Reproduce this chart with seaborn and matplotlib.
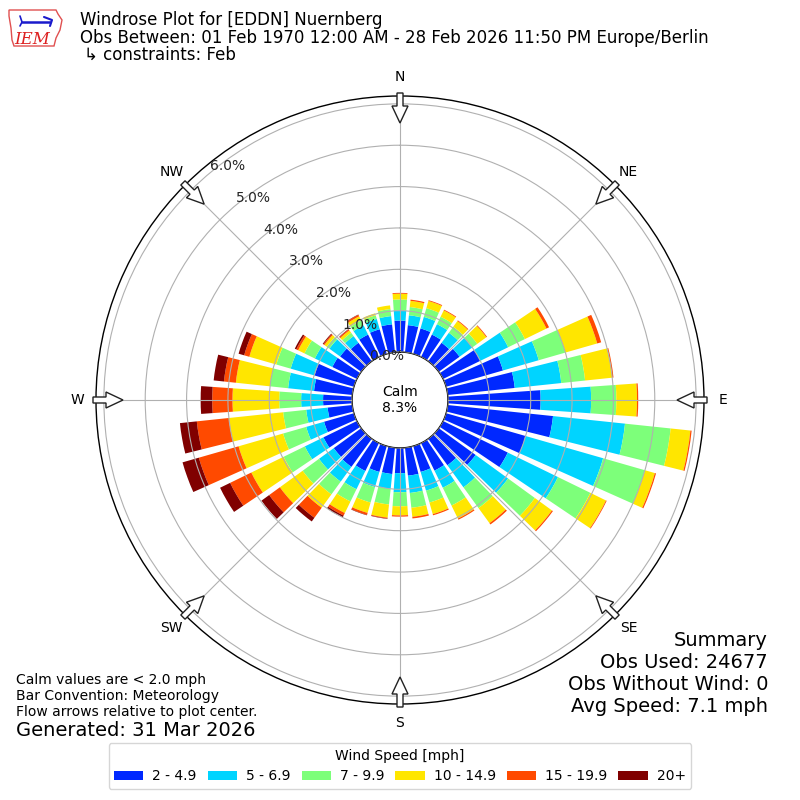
import numpy as np
import matplotlib
matplotlib.use("Agg")
import matplotlib.pyplot as plt
import seaborn as sns
from matplotlib.patches import FancyArrow, Polygon

# ---------------- data (percent of observations) ----------------
directions = [0, 10, 20, 30, 40, 50, 60, 70, 80, 90, 100, 110, 120, 130, 140, 150, 160, 170,
              180, 190, 200, 210, 220, 230, 240, 250, 260, 270, 280, 290, 300, 310, 320, 330, 340, 350]
speed_bins = ["2 - 4.9", "5 - 6.9", "7 - 9.9", "10 - 14.9", "15 - 19.9", "20+"]
# cumulative radius of each speed bin, per direction
cum_2_5 = [0.76, 0.66, 0.64, 0.60, 0.55, 0.62, 1.00, 1.43, 1.63, 2.24, 2.56, 2.00, 1.74, 1.10, 0.79, 0.74, 0.65, 0.68,
           0.61, 0.64, 0.65, 0.75, 0.84, 0.82, 0.90, 0.75, 0.60, 0.70, 0.93, 0.99, 0.66, 0.63, 0.55, 0.60, 0.62, 0.68]
cum_5_7 = [1.00, 0.90, 0.93, 0.88, 0.85, 1.00, 1.75, 2.33, 2.76, 3.46, 4.31, 3.95, 3.09, 2.07, 1.45, 1.20, 1.12, 1.10,
           1.07, 1.00, 1.03, 1.24, 1.28, 1.26, 1.40, 1.20, 1.12, 1.23, 1.56, 1.59, 1.13, 0.95, 0.75, 0.85, 0.88, 0.88]
cum_7_10 = [1.27, 1.10, 1.15, 1.08, 1.03, 1.15, 2.20, 3.00, 3.34, 4.07, 5.42, 5.00, 3.96, 2.87, 2.07, 1.68, 1.42, 1.46,
            1.41, 1.38, 1.42, 1.57, 1.66, 1.75, 1.97, 1.78, 1.68, 1.76, 2.00, 1.95, 1.41, 1.03, 0.85, 0.98, 0.97, 1.05]
cum_10_15 = [1.41, 1.25, 1.33, 1.25, 1.20, 1.42, 2.78, 3.80, 4.00, 4.57, 5.90, 5.25, 4.38, 3.38, 2.52, 2.03, 1.71, 1.68,
             1.63, 1.70, 1.68, 1.88, 2.06, 2.43, 2.84, 2.90, 3.00, 2.89, 2.83, 2.63, 1.58, 1.10, 0.92, 1.09, 1.02, 1.14]
cum_15_20 = [1.43, 1.28, 1.35, 1.27, 1.22, 1.44, 2.85, 3.90, 4.03, 4.60, 5.93, 5.28, 4.40, 3.41, 2.56, 2.06, 1.74, 1.72,
             1.66, 1.72, 1.73, 1.95, 2.36, 2.75, 3.41, 3.90, 3.78, 3.38, 3.12, 2.76, 1.63, 1.13, 0.95, 1.13, 1.02, 1.14]
cum_20p = [1.43, 1.28, 1.35, 1.27, 1.22, 1.44, 2.85, 3.90, 4.03, 4.60, 5.93, 5.28, 4.40, 3.41, 2.56, 2.06, 1.74, 1.72,
           1.66, 1.73, 1.74, 2.00, 2.47, 2.98, 3.68, 4.31, 4.19, 3.66, 3.37, 2.90, 1.67, 1.15, 0.96, 1.14, 1.02, 1.14]
r_ticks = [0, 1, 2, 3, 4, 5, 6]
r_tick_labels = ["0.0%", "1.0%", "2.0%", "3.0%", "4.0%", "5.0%", "6.0%"]
compass = ["N", "NE", "E", "SE", "S", "SW", "W", "NW"]
calm_pct = 8.3
colors_hex = ["#0028ff", "#00d4ff", "#7dff7a", "#ffe600", "#ff4a00", "#800000"]

# ---------------- style ----------------
sns.set_style("white")
palette = sns.color_palette(colors_hex)
plt.rcParams["font.family"] = ["DejaVu Sans"]
plt.rcParams["text.color"] = "black"

fig = plt.figure(figsize=(8, 8), dpi=100)
ax = fig.add_axes([0.12, 0.12, 0.76, 0.76], projection="polar")
ax.set_theta_zero_location("N")
ax.set_theta_direction(-1)
ax.set_facecolor("white")
ax.set_axisbelow(False)

cums = [cum_2_5, cum_5_7, cum_7_10, cum_10_15, cum_15_20, cum_20p]
theta = np.deg2rad(directions)
width = np.deg2rad(8.0)
prev = np.zeros(len(directions))
bars = []
for k, c in enumerate(cums):
    c = np.array(c)
    b = ax.bar(theta, c - prev, bottom=prev, width=width, color=palette[k],
               linewidth=0, label=speed_bins[k], zorder=1)
    bars.append(b)
    prev = c

ax.set_rorigin(-1.16)
ax.set_ylim(0, 6.19)
ax.set_yticks(r_ticks)
ax.set_yticklabels(r_tick_labels, fontsize=10)
ax.set_rlabel_position(320)
ax.set_xticks(np.deg2rad(np.arange(0, 360, 45)))
ax.set_xticklabels([])
ax.grid(True, color="#b0b0b0", linewidth=0.8)
ax.spines["polar"].set_color("black")
ax.spines["polar"].set_linewidth(1.0)
ax.spines["inner"].set_visible(True)
ax.spines["inner"].set_color("black")
ax.spines["inner"].set_linewidth(1.0)

ax.text(0.5, 0.5, "Calm\n%.1f%%" % calm_pct, transform=ax.transAxes,
        ha="center", va="center", fontsize=10, zorder=5)

# compass labels and flow arrows (figure fraction coordinates, centre 0.5,0.5)
for i, lab in enumerate(compass):
    ang = np.deg2rad(i * 45)
    sx, sy = np.sin(ang), np.cos(ang)
    fig.text(0.5 + sx * 323 / 800, 0.5 + sy * 323 / 800, lab, ha="center", va="center", fontsize=10)
    r0, r1 = 307 / 800, 277 / 800
    arr = FancyArrow(0.5 + sx * r0, 0.5 + sy * r0, sx * (r1 - r0), sy * (r1 - r0),
                     width=6 / 800, head_width=16 / 800, head_length=17 / 800,
                     length_includes_head=True, transform=fig.transFigure,
                     facecolor="white", edgecolor="#222222", linewidth=1.0, zorder=10)
    fig.add_artist(arr)

# titles
fig.text(80 / 800, 1 - 20 / 800, "Windrose Plot for [EDDN] Nuernberg", fontsize=12, va="center")
fig.text(80 / 800, 1 - 38 / 800, "Obs Between: 01 Feb 1970 12:00 AM - 28 Feb 2026 11:50 PM Europe/Berlin",
         fontsize=12, va="center")
fig.text(84 / 800, 1 - 55 / 800, "\u21b3 constraints: Feb", fontsize=12, va="center")

# logo (simple drawing)
lax = fig.add_axes([8 / 800, 1 - 50 / 800, 56 / 800, 42 / 800])
lax.set_xlim(0, 56)
lax.set_ylim(0, 42)
lax.axis("off")
iowa = Polygon([[1, 40], [48, 40], [50, 36], [54, 30], [52, 20], [48, 12], [46, 4], [6, 4], [4, 10], [3, 22], [1, 34]],
               closed=True, fill=False, edgecolor="#e05050", linewidth=1.0)
lax.add_patch(iowa)
lax.plot([14, 42], [28, 28], color="#1a1acc", linewidth=1.8)
lax.plot([12, 14, 12], [34, 28, 24], color="#1a1acc", linewidth=1.2)
lax.plot([36, 44, 42], [33, 30, 24], color="#1a1acc", linewidth=1.5)
lax.text(24, 11, "IEM", color="#dd2020", fontsize=12, fontstyle="italic", family="DejaVu Serif",
         ha="center", va="center")

# bottom-left notes
fig.text(16 / 800, 1 - 680 / 800, "Calm values are < 2.0 mph", fontsize=10, va="center")
fig.text(16 / 800, 1 - 696 / 800, "Bar Convention: Meteorology", fontsize=10, va="center")
fig.text(16 / 800, 1 - 712 / 800, "Flow arrows relative to plot center.", fontsize=10, va="center")
fig.text(16 / 800, 1 - 730 / 800, "Generated: 31 Mar 2026", fontsize=14, va="center")

# summary
summary = ["Summary", "Obs Used: 24677", "Obs Without Wind: 0", "Avg Speed: 7.1 mph"]
for j, s in enumerate(summary):
    fig.text(768 / 800, 1 - (640 + 22 * j) / 800, s, fontsize=14, ha="right", va="center")

leg = fig.legend(handles=bars, labels=speed_bins, loc="center", bbox_to_anchor=(0.5, 1 - 766 / 800),
                 ncol=6, title="Wind Speed [mph]", fontsize=10, title_fontsize=10,
                 handlelength=2.1, handleheight=0.65, handletextpad=0.65, columnspacing=0.8,
                 frameon=True)
leg.get_frame().set_edgecolor("#cccccc")

fig.savefig("out.png", dpi=100)
